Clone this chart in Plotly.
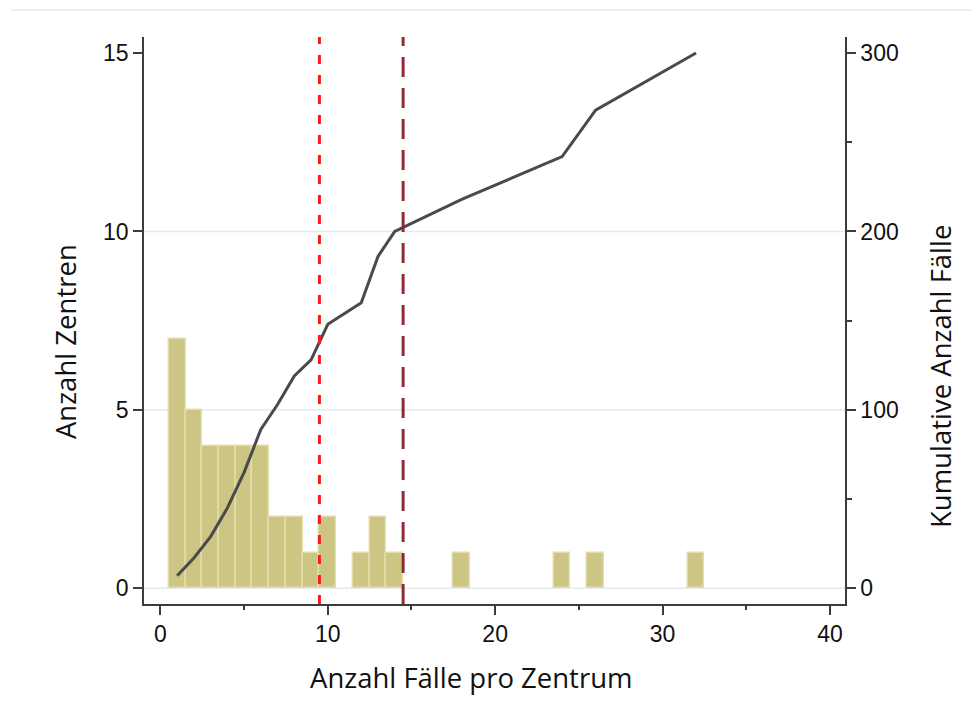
import numpy as np
import plotly.graph_objects as go

# Data
cases_per_center = [1, 2, 3, 4, 5, 6, 7, 8, 9, 10, 12, 13, 14, 18, 24, 26, 32]
num_centers      = [7, 5, 4, 4, 4, 4, 2, 2, 1, 2, 1, 2, 1, 1, 1, 1, 1]
ref_lines = [9.5, 14.5]
x_ticks = [0, 10, 20, 30, 40]
x_minor = [5, 15, 25, 35]
y_ticks = [0, 5, 10, 15]
y2_ticks = [0, 100, 200, 300]
y2_minor = [50, 150, 250]
grid_levels = [0, 5, 10]

cum_cases = np.cumsum(np.array(cases_per_center) * np.array(num_centers))

AX = "#3c3c3c"
TICKFONT = dict(family="Liberation Sans, Arial", size=23, color="#111111")
TITLEFONT = dict(family="Open Sans, Lato", size=27.5, color="#111111")

fig = go.Figure()

fig.add_trace(go.Bar(
    x=cases_per_center, y=num_centers, width=1,
    marker=dict(color="rgb(204,197,132)", line=dict(color="rgb(226,222,172)", width=1.5)),
    yaxis="y", showlegend=False))

fig.add_trace(go.Scatter(
    x=cases_per_center, y=cum_cases, mode="lines",
    line=dict(color="#4a4a4a", width=3),
    yaxis="y2", showlegend=False))

# grid lines (only at interior levels incl. 0)
for g in grid_levels:
    fig.add_shape(type="line", xref="paper", yref="y", x0=0, x1=1, y0=g, y1=g,
                  line=dict(color="#e3ebee", width=1.5), layer="below")

# reference lines
styles = [dict(color="#ff1a1a", width=3, dash="9px,11px"),
          dict(color="#8e2a33", width=3, dash="20px,11px")]
for xv, st in zip(ref_lines, styles):
    fig.add_shape(type="line", xref="x", yref="paper", x0=xv, x1=xv, y0=0, y1=1,
                  line=st, layer="above")

# top thin border line
fig.add_shape(type="line", xref="paper", yref="paper", x0=-0.19, x1=1.2, y0=1.0476, y1=1.0476,
              line=dict(color="#e3ecec", width=1.5))

fig.update_layout(
    width=980, height=717,
    margin=dict(l=136, r=143, t=29, b=121, autoexpand=False),
    paper_bgcolor="white", plot_bgcolor="white",
    bargap=0,
    xaxis=dict(range=[-0.98, 40.9], tickvals=x_ticks, ticks="outside", ticklen=9, tickwidth=1.5,
               tickcolor=AX, showline=True, linecolor=AX, linewidth=1.5, showgrid=False,
               zeroline=False, tickfont=TICKFONT,
               minor=dict(tickvals=x_minor, ticks="outside", ticklen=4, tickwidth=1.5, tickcolor=AX)),
    yaxis=dict(range=[-0.44, 15.45], tickvals=y_ticks, ticks="outside", ticklen=9, tickwidth=1.5,
               tickcolor=AX, showline=True, linecolor=AX, linewidth=1.5, showgrid=False,
               zeroline=False, tickfont=TICKFONT),
    yaxis2=dict(range=[-8.8, 309], tickvals=y2_ticks, ticks="outside", ticklen=9, tickwidth=1.5,
                tickcolor=AX, showline=True, linecolor=AX, linewidth=1.5, showgrid=False,
                zeroline=False, tickfont=TICKFONT, overlaying="y", side="right",
                minor=dict(tickvals=y2_minor, ticks="outside", ticklen=5, tickwidth=1.5, tickcolor=AX)),
    annotations=[
        dict(text="Anzahl Fälle pro Zentrum", xref="paper", yref="paper", x=0.4665, y=-0.1305,
             xanchor="center", yanchor="middle", showarrow=False, font=TITLEFONT),
        dict(text="Anzahl Zentren", xref="paper", yref="paper", x=-0.1127, y=0.4638,
             xanchor="center", yanchor="middle", showarrow=False, font=TITLEFONT, textangle=-90),
        dict(text="Kumulative Anzahl Fälle", xref="paper", yref="paper", x=1.1355, y=0.402,
             xanchor="center", yanchor="middle", showarrow=False, font=TITLEFONT, textangle=-90),
    ],
)

fig.write_html("out.html")
